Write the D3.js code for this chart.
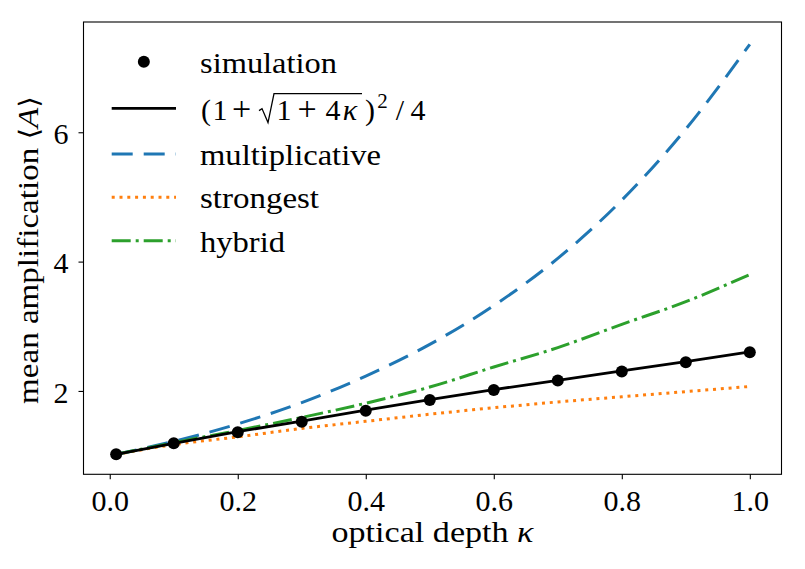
<!DOCTYPE html>
<html>
<head>
<meta charset="utf-8">
<script src="https://cdn.jsdelivr.net/npm/d3@7"></script>
<style>
  body { margin: 0; background: #fff; }
  text { font-family: "Liberation Serif", "DejaVu Serif", serif; fill: #000; }
</style>
</head>
<body>
<svg id="svg" width="805" height="569"></svg>
<script>
// values
const kappa          = [0.01, 0.1, 0.2, 0.3, 0.4, 0.5, 0.6, 0.7, 0.8, 0.9, 1.0];
const simulation     = [1.02, 1.19, 1.36, 1.525, 1.695, 1.86, 2.015, 2.16, 2.30, 2.445, 2.60];
const analytic       = [1.02, 1.19, 1.37, 1.535, 1.705, 1.865, 2.02, 2.165, 2.31, 2.455, 2.605];
const multiplicative = [1.02, 1.22, 1.49, 1.82, 2.23, 2.72, 3.32, 4.05, 4.95, 6.05, 7.36];
const strongest      = [1.02, 1.17, 1.29, 1.42, 1.53, 1.64, 1.74, 1.83, 1.91, 1.99, 2.07];
const hybrid         = [1.02, 1.20, 1.39, 1.59, 1.81, 2.06, 2.37, 2.67, 3.03, 3.38, 3.80];
const xTicks = [0.0, 0.2, 0.4, 0.6, 0.8, 1.0];
const yTicks = [2, 4, 6];

const svg = d3.select('#svg');
svg.append('rect').attr('width', 805).attr('height', 569).attr('fill', '#fff');

const pl = 83.5, pr = 781.5, pt = 22, pb = 474.3;
const x = d3.scaleLinear().domain([-0.041, 1.0495]).range([pl, pr]);
const y = d3.scaleLinear().domain([0.711, 7.705]).range([pb, pt]);
const fs = 30;

// axes
const xAxis = d3.axisBottom(x).tickValues(xTicks).tickSize(5).tickPadding(10).tickFormat(d3.format('.1f'));
const gx = svg.append('g').attr('transform', `translate(0,${pb})`).call(xAxis);
const yAxis = d3.axisLeft(y).tickValues(yTicks).tickSize(5).tickPadding(10).tickFormat(d3.format('d'));
const gy = svg.append('g').attr('transform', `translate(${pl},0)`).call(yAxis);
[gx, gy].forEach(g => {
  g.select('.domain').remove();
  g.selectAll('.tick line').attr('stroke', '#000').attr('stroke-width', 1.1);
  g.selectAll('.tick text').attr('font-size', fs).attr('fill', '#000')
    .style('font-family', '"Liberation Serif", serif');
});
gy.selectAll('.tick text').attr('dy', '0.37em');

// data lines
const line = d3.line().x((d, i) => x(kappa[i])).y(d => y(d));
const smooth = d3.line().x((d, i) => x(kappa[i])).y(d => y(d)).curve(d3.curveMonotoneX);

const plot = svg.append('g');
plot.append('path').datum(multiplicative).attr('d', smooth)
  .attr('fill', 'none').attr('stroke', '#1f77b4').attr('stroke-width', 3).attr('stroke-dasharray', '21,11');
plot.append('path').datum(strongest).attr('d', smooth)
  .attr('fill', 'none').attr('stroke', '#ff7f0e').attr('stroke-width', 3).attr('stroke-dasharray', '3,4.8');
plot.append('path').datum(hybrid).attr('d', smooth)
  .attr('fill', 'none').attr('stroke', '#2ca02c').attr('stroke-width', 3).attr('stroke-dasharray', '19,5,3,5');
plot.append('path').datum(analytic).attr('d', line)
  .attr('fill', 'none').attr('stroke', '#000').attr('stroke-width', 2.8);
plot.selectAll('.sim').data(simulation).enter().append('circle')
  .attr('class', 'sim')
  .attr('cx', (d, i) => x(kappa[i]))
  .attr('cy', d => y(d))
  .attr('r', 6)
  .attr('fill', '#000');

// frame
svg.append('rect').attr('x', pl).attr('y', pt).attr('width', pr - pl).attr('height', pb - pt)
  .attr('fill', 'none').attr('stroke', '#000').attr('stroke-width', 1.1);

// axis labels, stretched to the width of the reference's wider serif
function stretch(t, cxp, cyp, rot, width) {
  const w = t.node().getComputedTextLength();
  t.attr('transform', `translate(${cxp},${cyp}) rotate(${rot}) scale(${width / w},1)`);
}
const xl = svg.append('text').attr('text-anchor', 'middle').attr('font-size', fs);
xl.append('tspan').text('optical depth ');
xl.append('tspan').attr('font-style', 'italic').text('κ');
stretch(xl, (pl + pr) / 2, 542, 0, 202);

const yl = svg.append('text').attr('text-anchor', 'middle').attr('font-size', fs);
yl.append('tspan').text('mean amplification ');
yl.append('tspan').style('font-family', '"DejaVu Serif", serif').attr('font-size', 27).text('⟨');
yl.append('tspan').attr('font-style', 'italic').text('A');
yl.append('tspan').style('font-family', '"DejaVu Serif", serif').attr('font-size', 27).text('⟩');
stretch(yl, 38, 250, -90, 308);

// legend
const legend = svg.append('g');
const hx0 = 111.7, hx1 = 176, tx = 200;
const rows = [
  {key: 'simulation', cy: 61.7, w: 137},
  {key: 'analytic', cy: 108.3, color: '#000', dash: null},
  {key: 'multiplicative', cy: 154, color: '#1f77b4', dash: '21,11', w: 181},
  {key: 'strongest', cy: 197.3, color: '#ff7f0e', dash: '3,4.8', w: 119},
  {key: 'hybrid', cy: 240.7, color: '#2ca02c', dash: '19,5,3,5', w: 85}
];
rows.forEach(r => {
  if (r.key === 'simulation') {
    legend.append('circle').attr('cx', (hx0 + hx1) / 2).attr('cy', r.cy).attr('r', 6).attr('fill', '#000');
  } else {
    legend.append('line').attr('x1', hx0).attr('x2', hx1).attr('y1', r.cy).attr('y2', r.cy)
      .attr('stroke', r.color).attr('stroke-width', r.key === 'analytic' ? 2.8 : 3)
      .attr('stroke-dasharray', r.dash);
  }
  if (r.key !== 'analytic') {
    legend.append('text').attr('x', tx).attr('y', r.cy + 11).attr('font-size', fs)
      .attr('textLength', r.w).attr('lengthAdjust', 'spacingAndGlyphs').text(r.key);
  }
});

// (1 + sqrt(1 + 4κ))^2 / 4, glyphs centred where the reference has them
const fb = 108.3 + 11.3;
const glyphs = [
  {s: '(', c: 206}, {s: '1', c: 220}, {s: '+', c: 241.5, size: 34},
  {s: '1', c: 284}, {s: '+', c: 307, size: 34}, {s: '4', c: 333}, {s: 'κ', c: 350, it: true},
  {s: ')', c: 370}, {s: '2', c: 382.5, size: 21, dy: -12}, {s: '/', c: 400}, {s: '4', c: 418}
];
glyphs.forEach(g => {
  const t = legend.append('text').attr('x', g.c).attr('y', fb + (g.dy || 0))
    .attr('text-anchor', 'middle').attr('font-size', g.size || fs).text(g.s);
  if (g.it) t.attr('font-style', 'italic');
});
const rx = 259;
legend.append('path')
  .attr('d', `M${rx},${fb - 9} L${rx + 3},${fb - 11} L${rx + 9},${fb + 3} L${rx + 15},${fb - 26} L${362},${fb - 26}`)
  .attr('fill', 'none').attr('stroke', '#000').attr('stroke-width', 1.3);
</script>
</body>
</html>
